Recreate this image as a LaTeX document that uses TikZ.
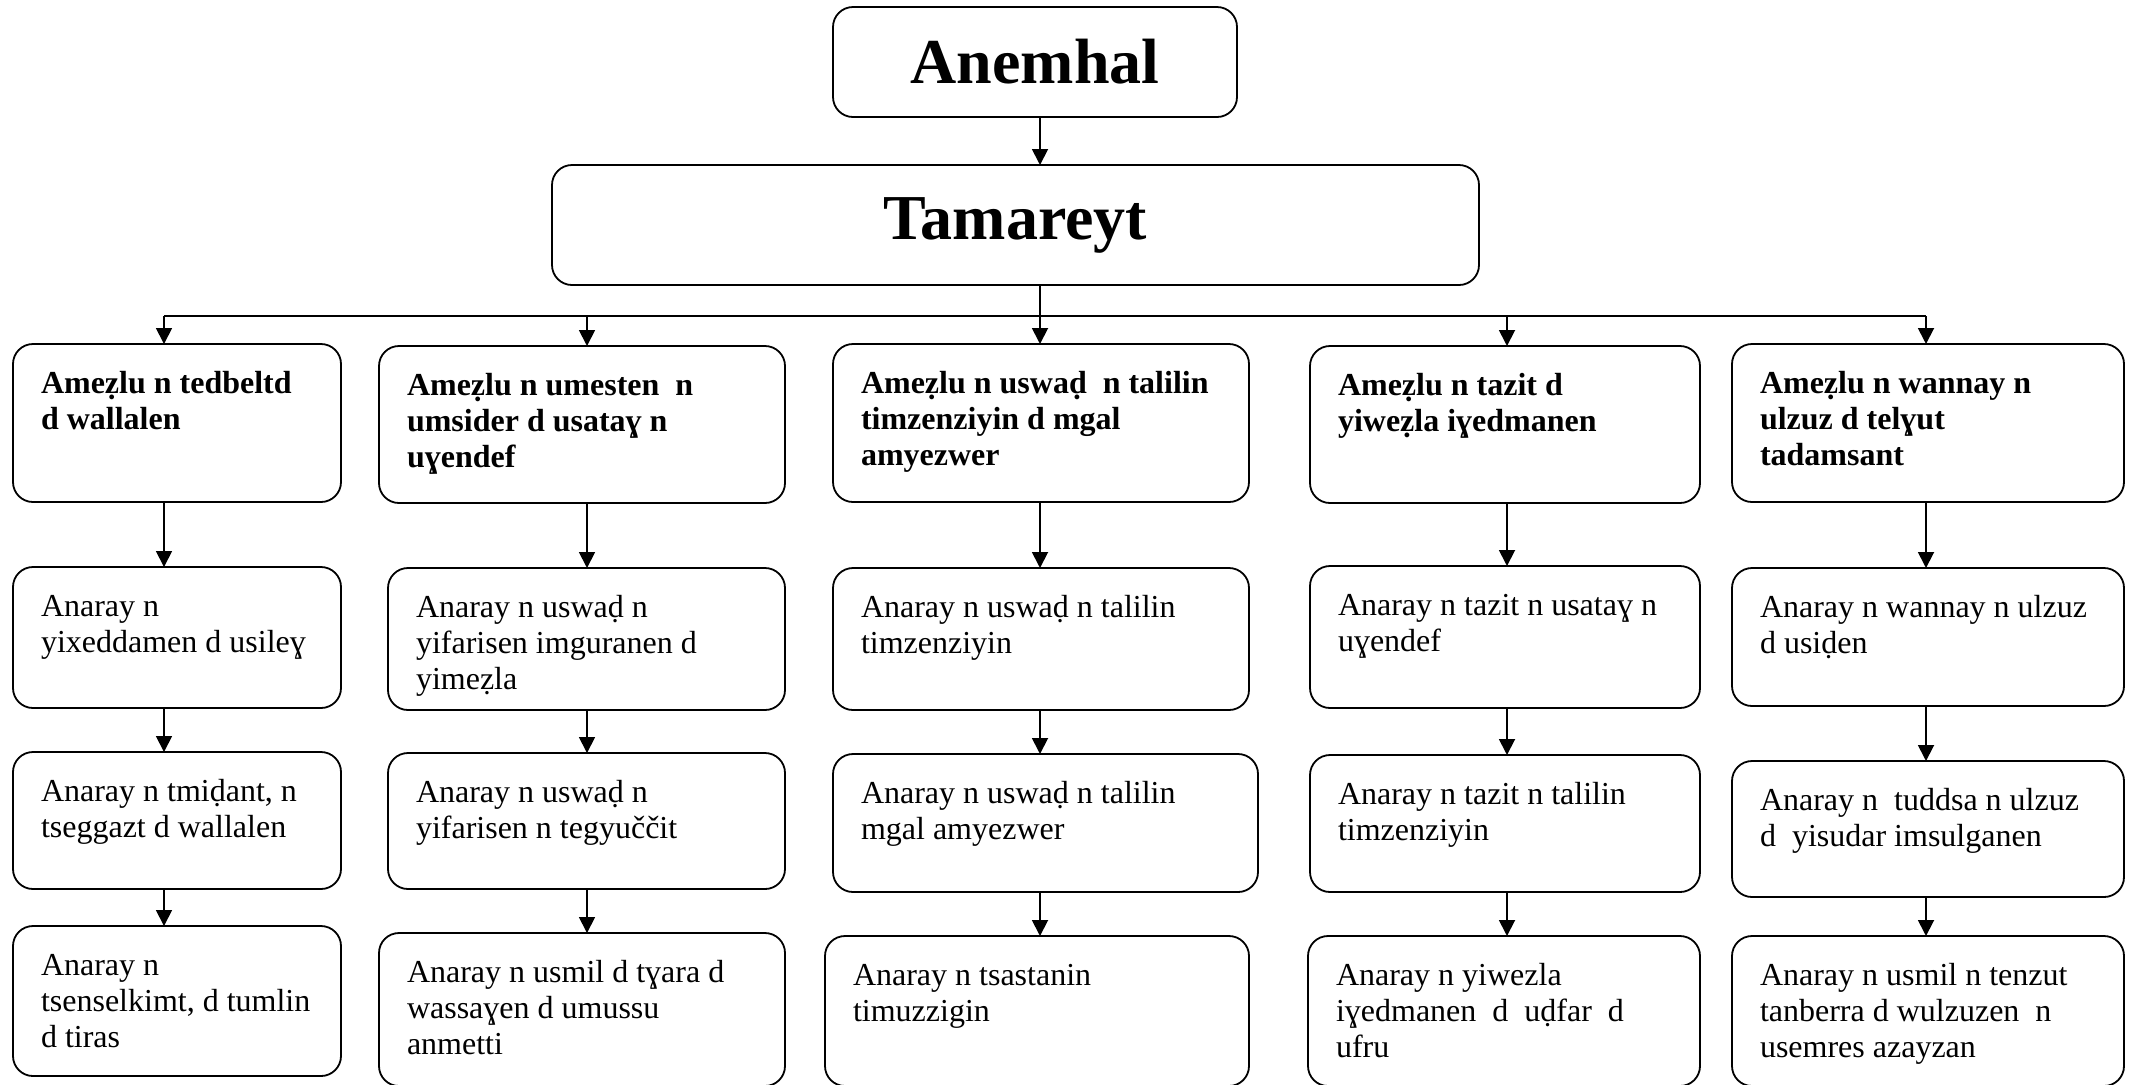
\documentclass[tikz,border=0pt]{standalone}
\usepackage{fontspec}
\setmainfont{Liberation Serif}
\usetikzlibrary{arrows.meta}
\tikzset{
  box/.style={draw, line width=0.9pt, rounded corners=10pt, inner xsep=14pt, inner ysep=12pt, outer sep=0pt},
  arr/.style={line width=0.9pt, -{Triangle[width=8pt,length=8pt]}},
  conn/.style={line width=0.9pt}
}
\newcommand\tbox[7]{%
  \pgfmathsetmacro\bw{(#4-#2)*0.5}%
  \pgfmathsetmacro\bh{(#5-#3)*0.5}%
  \pgfmathsetmacro\iw{\bw-28}%
  \pgfmathsetmacro\ih{\bh-24}%
  \node[box, minimum width=\bw pt, minimum height=\bh pt, anchor=north west] (#1) at (#2,#3)
    {\parbox[t][\ih pt][t]{\iw pt}{\raggedright\fontsize{16pt}{18pt}\selectfont#6\strut #7}};
}
\begin{document}
\begin{tikzpicture}[x=0.5pt,y=-0.5pt]
\useasboundingbox (0,0) rectangle (2131,1084);
% titles
\node[box, minimum width=202pt, minimum height=55pt, font=\fontsize{32pt}{38pt}\selectfont\bfseries] (t1) at (1035,62) {Anemhal};
\node[box, minimum width=463.5pt, minimum height=60pt, font=\fontsize{32pt}{38pt}\selectfont\bfseries] (t2) at (1015.5,225) {Tamareyt};
% branch coordinates
\coordinate (k1) at (164,316);
\coordinate (k2) at (587,316);
\coordinate (k3) at (1040,316);
\coordinate (k4) at (1507,316);
\coordinate (k5) at (1926,316);
% level 2
\tbox{a2}{13}{344}{341}{502}{\bfseries}{Ameẓlu n tedbeltd\\ d wallalen}
\tbox{b2}{379}{346}{785}{503}{\bfseries}{Ameẓlu n umesten\ \ n\\ umsider d usataɣ n\\ uɣendef}
\tbox{c2}{833}{344}{1249}{502}{\bfseries}{Ameẓlu n uswaḍ\ \ n talilin\\ timzenziyin d mgal\\ amyezwer}
\tbox{d2}{1310}{346}{1700}{503}{\bfseries}{Ameẓlu n tazit d\\ yiweẓla iɣedmanen}
\tbox{e2}{1732}{344}{2124}{502}{\bfseries}{Ameẓlu n wannay n\\ ulzuz d telɣut\\ tadamsant}
% level 3
\tbox{a3}{13}{567}{341}{708}{}{Anaray n\\ yixeddamen d usileɣ}
\tbox{b3}{388}{568}{785}{710}{}{Anaray n uswaḍ n\\ yifarisen imguranen d\\ yimeẓla}
\tbox{c3}{833}{568}{1249}{710}{}{Anaray n uswaḍ n talilin\\ timzenziyin}
\tbox{d3}{1310}{566}{1700}{708}{}{Anaray n tazit n usataɣ n\\ uɣendef}
\tbox{e3}{1732}{568}{2124}{706}{}{Anaray n wannay n ulzuz\\ d usiḍen}
% level 4
\tbox{a4}{13}{752}{341}{889}{}{Anaray n tmiḍant, n\\ tseggazt d wallalen}
\tbox{b4}{388}{753}{785}{889}{}{Anaray n uswaḍ n\\ yifarisen n tegyuččit}
\tbox{c4}{833}{754}{1258}{892}{}{Anaray n uswaḍ n talilin\\ mgal amyezwer}
\tbox{d4}{1310}{755}{1700}{892}{}{Anaray n tazit n talilin\\ timzenziyin}
\tbox{e4}{1732}{761}{2124}{897}{}{Anaray n\ \ tuddsa n ulzuz\\ d\ \ yisudar imsulganen}
% level 5
\tbox{a5}{13}{926}{341}{1076}{}{Anaray n\\ tsenselkimt, d tumlin\\ d tiras}
\tbox{b5}{379}{933}{785}{1086}{}{Anaray n usmil d tɣara d\\ wassaɣen d umussu\\ anmetti}
\tbox{c5}{825}{936}{1249}{1086}{}{Anaray n tsastanin\\ timuzzigin}
\tbox{d5}{1308}{936}{1700}{1086}{}{Anaray n yiwezla\\ iɣedmanen\ \ d\ \ uḍfar\ \ d\\ ufru}
\tbox{e5}{1732}{936}{2124}{1086}{}{Anaray n usmil n tenzut\\ tanberra d wulzuzen\ \ n\\ usemres azayzan}
% connectors
\draw[arr] (t1.south -| k3) -- (t2.north -| k3);
\draw[conn] (t2.south -| k3) -- (k3);
\draw[conn] (k1) -- (k5);
\foreach \c/\n in {k1/a, k2/b, k3/c, k4/d, k5/e}{
  \draw[arr] (\c) -- (\n2.north -| \c);
  \draw[arr] (\n2.south -| \c) -- (\n3.north -| \c);
  \draw[arr] (\n3.south -| \c) -- (\n4.north -| \c);
  \draw[arr] (\n4.south -| \c) -- (\n5.north -| \c);
}
\end{tikzpicture}
\end{document}
